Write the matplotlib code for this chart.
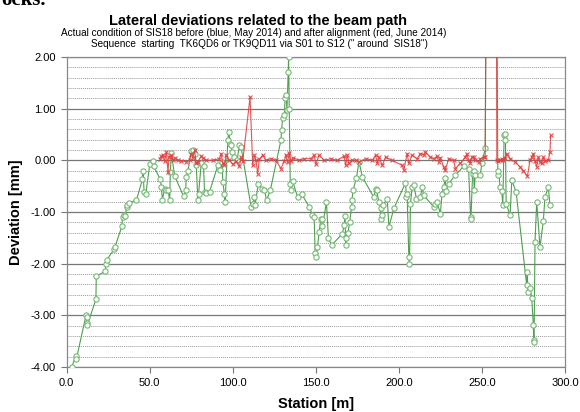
import numpy as np
import matplotlib
matplotlib.use("Agg")
import matplotlib.pyplot as plt
from matplotlib.ticker import MultipleLocator, FormatStrFormatter

plt.rcParams['font.family'] = ['Liberation Sans', 'DejaVu Sans']

# before alignment (May 2014) - station [m], deviation [mm]
before_station = [3.0, 5.4, 5.8, 11.6, 12.0, 12.2, 12.4, 17.6, 17.8, 23.2, 23.6, 24.0,
                  28.6, 29.0, 33.2, 33.6, 34.4, 35.2, 36.2, 36.4, 37.6, 42.0, 45.6, 46.0,
                  46.6, 47.6, 50.0, 52.0, 52.4, 56.4, 57.0, 57.6, 59.0, 59.6, 61.0, 62.0,
                  62.4, 63.0, 65.0, 70.4, 71.6, 72.0, 73.0, 75.0, 76.0, 77.0, 78.0, 79.0,
                  79.4, 81.0, 82.4, 83.0, 84.0, 86.0, 91.0, 92.6, 93.6, 94.0, 95.0, 95.4,
                  97.0, 97.6, 98.6, 99.0, 99.6, 101.0, 102.6, 104.0, 105.0, 111.0, 112.0,
                  113.0, 113.4, 115.4, 117.6, 119.0, 120.4, 122.6, 129.0, 129.4, 130.0,
                  131.0, 131.6, 132.2, 132.6, 133.4, 133.6, 134.0, 134.6, 135.0, 136.0,
                  139.0, 141.4, 146.0, 148.0, 149.0, 149.6, 150.0, 151.0, 152.0, 153.0,
                  153.6, 154.0, 156.4, 157.6, 159.6, 166.0, 167.0, 167.6, 168.0, 168.4,
                  169.4, 170.4, 171.6, 171.8, 172.4, 174.4, 176.0, 178.0, 185.0, 186.0,
                  186.6, 188.0, 189.0, 189.2, 189.6, 190.4, 193.0, 194.0, 197.0, 204.0,
                  204.6, 205.0, 206.0, 206.4, 207.0, 208.0, 209.0, 210.6, 213.0, 214.0,
                  215.0, 221.0, 222.0, 223.0, 225.0, 226.0, 227.0, 228.0, 228.4, 230.0,
                  234.0, 239.0, 242.0, 243.2, 243.4, 244.4, 245.0, 245.4, 246.0, 249.0,
                  250.0, 252.0, 253.0, 258.6, 259.6, 260.0, 261.0, 262.0, 262.6, 263.4,
                  264.0, 264.2, 264.6, 267.0, 268.0, 270.6, 277.0, 277.4, 277.6, 279.0,
                  280.0, 281.0, 281.2, 281.4, 282.0, 283.0, 285.0, 287.0, 288.0, 290.0,
                  291.0]
before_dev = [-4.00, -3.79, -3.85, -3.00, -3.04, -3.15, -3.19, -2.69, -2.24, -2.15, -2.00, -1.93,
              -1.72, -1.68, -1.28, -1.10, -1.05, -1.08, -0.90, -0.86, -0.82, -0.77, -0.37, -0.21,
              -0.61, -0.66, -0.08, -0.02, -0.12, -0.37, -0.52, -0.76, -0.55, -0.58, -0.57, -0.77,
              -0.23, 0.14, -0.30, -0.70, -0.58, -0.32, -0.21, 0.18, 0.19, 0.13, -0.10, -0.77,
              -0.65, -0.06, -0.12, -0.61, -0.63, -0.61, -0.10, -0.19, -0.03, -0.42, -0.66, -0.81,
              0.39, 0.55, 0.32, 0.29, 0.16, 0.06, 0.00, 0.29, 0.26, -0.90, -0.84,
              -0.71, -0.87, -0.45, -0.55, -0.58, -0.77, -0.58, 0.39, 0.58, 0.81,
              0.87, 1.21, 1.27, 0.97, 1.71, 2.00, 1.00, -0.45, -0.58, -0.40,
              -0.71, -0.65, -0.90, -1.06, -1.10, -1.80, -1.87, -1.68, -1.39, -1.13,
              -1.13, -1.28, -0.81, -1.51, -1.64, -1.42, -1.26, -1.08, -1.64, -1.50,
              -1.40, -1.19, -0.90, -0.77, -0.58, -0.35, -0.03, -0.32, -0.72, -0.55,
              -0.58, -0.81, -0.93, -1.13, -1.06, -0.87, -0.74, -1.29, -0.93, -0.44,
              -0.71, -0.65, -1.87, -2.00, -0.84, -0.52, -0.48, -0.74, -0.71, -0.52,
              -0.68, -0.90, -0.84, -0.81, -1.03, -0.65, -0.52, -0.35, -0.60, -0.45,
              -0.29, -0.12, -0.16, -1.10, -1.13, -0.26, -0.20, -0.58, -0.29, -0.29,
              -0.06, 0.23, 6.00, 6.00, -0.29, -0.20, -0.52, -0.60, -0.87, 0.48,
              0.50, 0.39, -0.84, -1.06, -0.39, -0.61, -2.42, -2.16, -2.55, -2.48,
              -2.66, -3.19, -3.48, -3.52, -1.58, -0.81, -1.68, -1.17, -0.71, -0.52,
              -0.87]

# after alignment (June 2014)
after_station = [56.0, 57.0, 58.0, 59.0, 60.0, 61.0, 61.6, 63.0, 64.0, 65.0, 67.0, 69.0,
                 72.0, 74.0, 75.0, 76.0, 77.0, 78.0, 79.0, 81.0, 82.0, 84.0, 88.0, 92.0,
                 93.0, 94.0, 95.0, 96.0, 98.0, 100.0, 102.0, 104.0, 105.0, 106.0, 110.4,
                 112.0, 113.0, 114.0, 115.0, 116.0, 118.0, 120.0, 123.0, 126.0, 129.0,
                 131.0, 132.0, 133.0, 134.0, 135.0, 136.0, 140.0, 143.0, 147.0, 149.0,
                 150.0, 152.0, 155.0, 159.0, 163.0, 167.0, 168.0, 169.0, 170.0, 172.0,
                 174.0, 176.0, 180.0, 184.0, 186.0, 187.0, 188.0, 190.0, 192.0, 196.0,
                 202.0, 203.0, 205.0, 206.0, 208.0, 211.0, 213.0, 215.0, 216.0, 219.0,
                 221.0, 223.0, 224.0, 225.0, 227.0, 228.0, 230.0, 233.0, 234.0, 237.0,
                 240.0, 241.0, 242.0, 243.0, 244.0, 245.0, 246.0, 248.0, 249.0, 251.0,
                 252.0, 253.0, 258.6, 259.0, 260.0, 261.0, 262.0, 263.0, 264.0, 265.0,
                 267.0, 270.0, 273.0, 275.0, 277.4, 279.0, 280.0, 281.0, 282.0, 283.0,
                 284.0, 285.0, 286.0, 287.0, 288.0, 290.0, 291.0, 291.4]
after_dev = [0.03, 0.08, 0.10, -0.02, 0.16, -0.23, 0.06, 0.10, 0.00, 0.05, 0.00, -0.01,
             -0.03, 0.01, 0.13, 0.05, 0.19, -0.06, -0.03, 0.08, 0.05, 0.00, 0.00, 0.03,
             0.13, -0.05, -0.10, 0.10, 0.00, -0.08, -0.02, -0.12, 0.06, -0.02, 1.22,
             -0.10, 0.10, 0.00, -0.26, 0.02, 0.10, 0.00, 0.03, 0.00, -0.16,
             -0.02, 0.10, -0.04, 0.14, -0.02, 0.05, 0.00, 0.03, 0.03, 0.10,
             -0.08, 0.10, 0.00, 0.03, 0.00, 0.08, -0.10, 0.10, -0.06, 0.00,
             0.00, -0.03, 0.03, 0.00, 0.10, -0.06, 0.06, -0.10, 0.06, 0.00,
             -0.10, -0.19, 0.13, -0.06, 0.10, 0.03, 0.13, 0.10, 0.16, 0.06,
             0.03, 0.08, -0.03, 0.05, -0.13, -0.19, 0.03, 0.00, -0.16, -0.06,
             0.06, 0.13, 0.00, -0.05, 0.06, 0.06, 0.00, -0.03, 0.03, 0.06,
             0.06, 6.00, 6.00, 0.00, -0.02, 0.00, 0.03, 0.00, 0.05, 0.13,
             0.03, -0.03, -0.13, -0.20, -0.31, 0.00, 0.06, 0.13, -0.02, -0.13,
             0.06, -0.03, -0.06, 0.06, -0.02, 0.00, 0.16, 0.48]

fig = plt.figure(figsize=(5.8, 4.12), dpi=100)
ax = fig.add_axes([0.115, 0.109, 0.859, 0.753])

ax.plot(before_station, before_dev, color="#4f9f4f", lw=0.8, marker="o", ms=3.8,
        mfc="white", mec="#74b874", mew=0.8, zorder=3)
ax.plot(after_station, after_dev, color="#e24040", lw=0.8, marker="x", ms=3.3,
        mew=0.8, zorder=4, alpha=0.9)

ax.set_xlim(0, 300)
ax.set_ylim(-4, 2)
ax.xaxis.set_major_locator(MultipleLocator(50))
ax.yaxis.set_major_locator(MultipleLocator(1))
ax.yaxis.set_minor_locator(MultipleLocator(0.2))
ax.xaxis.set_major_formatter(FormatStrFormatter("%.1f"))
ax.yaxis.set_major_formatter(FormatStrFormatter("%.2f"))
ax.grid(axis="y", which="major", color="#777777", lw=0.9)
ax.grid(axis="y", which="minor", color="#999999", lw=0.7, ls=(0, (1, 1)))
ax.set_axisbelow(True)
ax.tick_params(axis="both", which="major", labelsize=8, color="#777777",
               length=4, direction="out", pad=4)
ax.tick_params(axis="y", which="minor", length=0)
for s in ax.spines.values():
    s.set_color("#888888")
    s.set_linewidth(0.9)

ax.set_xlabel("Station [m]", fontsize=10.5, fontweight="bold", labelpad=6)
ax.set_ylabel("Deviation [mm]", fontsize=10.5, fontweight="bold", labelpad=5)

fig.text(0.445, 0.949, "Lateral deviations related to the beam path",
         ha="center", va="center", fontsize=10.5, fontweight="bold")
fig.text(0.437, 0.919, "Actual condition of SIS18 before (blue, May 2014) and after alignment (red, June 2014)",
         ha="center", va="center", fontsize=7.2)
fig.text(0.448, 0.893, "Sequence  starting  TK6QD6 or TK9QD11 via S01 to S12 (\" around  SIS18\")",
         ha="center", va="center", fontsize=7.2)
fig.text(0.002, 1.0, "ocks.", ha="left", va="center", fontsize=15,
         fontweight="bold", family="Liberation Serif")

fig.savefig("out.png", dpi=100)
